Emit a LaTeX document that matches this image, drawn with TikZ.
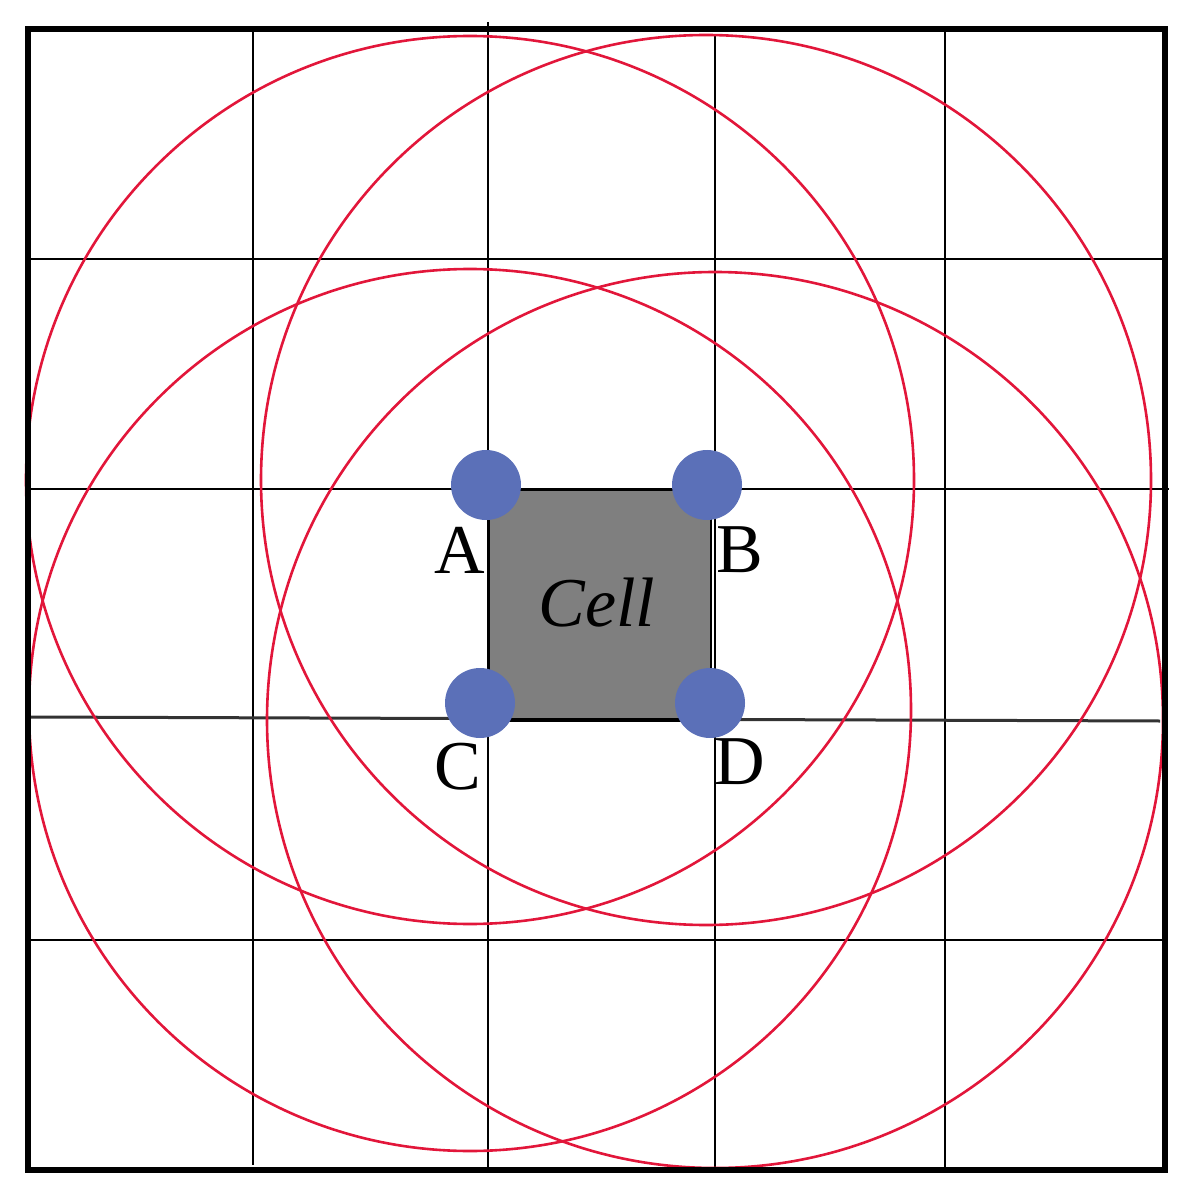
\documentclass[tikz,border=0pt]{standalone}
\usepackage{fontspec}
\setmainfont{Liberation Serif}
\definecolor{ringred}{RGB}{226,22,58}
\definecolor{dotblue}{RGB}{91,112,184}
\definecolor{cellgray}{RGB}{127,127,127}
\begin{document}
\begin{tikzpicture}[x=0.5pt,y=-0.5pt,
  gridline/.style={black,line width=1.1pt},
  ring/.style={ringred,line width=1.3pt},
  vdot/.style={circle,fill=dotblue,minimum size=35pt,inner sep=0pt},
  lbl/.style={font=\fontsize{35}{40}\selectfont,inner sep=0pt}]
\useasboundingbox (0,0) rectangle (1192,1202);
% grid
\draw[gridline] (253,29) -- (253,1165);
\draw[gridline] (488,22) -- (488,1170);
\draw[gridline] (715,35) -- (715,1170);
\draw[gridline] (945,29) -- (945,1170);
\draw[gridline] (28,259) -- (1165,259);
\draw[gridline] (28,489) -- (1169,489);
\draw[black!80,line width=1.5pt] (28,717) -- (1160,721);
\draw[gridline] (28,940) -- (1165,940);
% cell
\node[fill=cellgray,draw=black,line width=1pt,minimum width=111pt,minimum height=114.5pt,inner sep=0pt,anchor=north west] (cell) at (488,489) {};
\draw[black,line width=2pt] (cell.south west) -- (cell.south east);
\node[lbl,font=\fontsize{35}{40}\selectfont\itshape] (celltxt) at (597,603) {Cell};
% circles
\draw[ring] (470,480) circle (444);
\draw[ring] (706,480) circle (445);
\draw[ring] (470,710) circle (441);
\draw[ring] (715,720) circle (448);
% frame
\draw[black,line width=2.6pt] (28,29) rectangle (1165,1170);
% dots
\node[vdot] (A) at (486,485) {};
\node[vdot] (B) at (707,485) {};
\node[vdot] (C) at (480,703) {};
\node[vdot] (D) at (710,703) {};
% labels
\node[lbl] (la) at (460,550) {A};
\node[lbl] (lb) at (740,550) {B};
\node[lbl] (lc) at (458,767) {C};
\node[lbl] (ld) at (740,762) {D};
\end{tikzpicture}
\end{document}
